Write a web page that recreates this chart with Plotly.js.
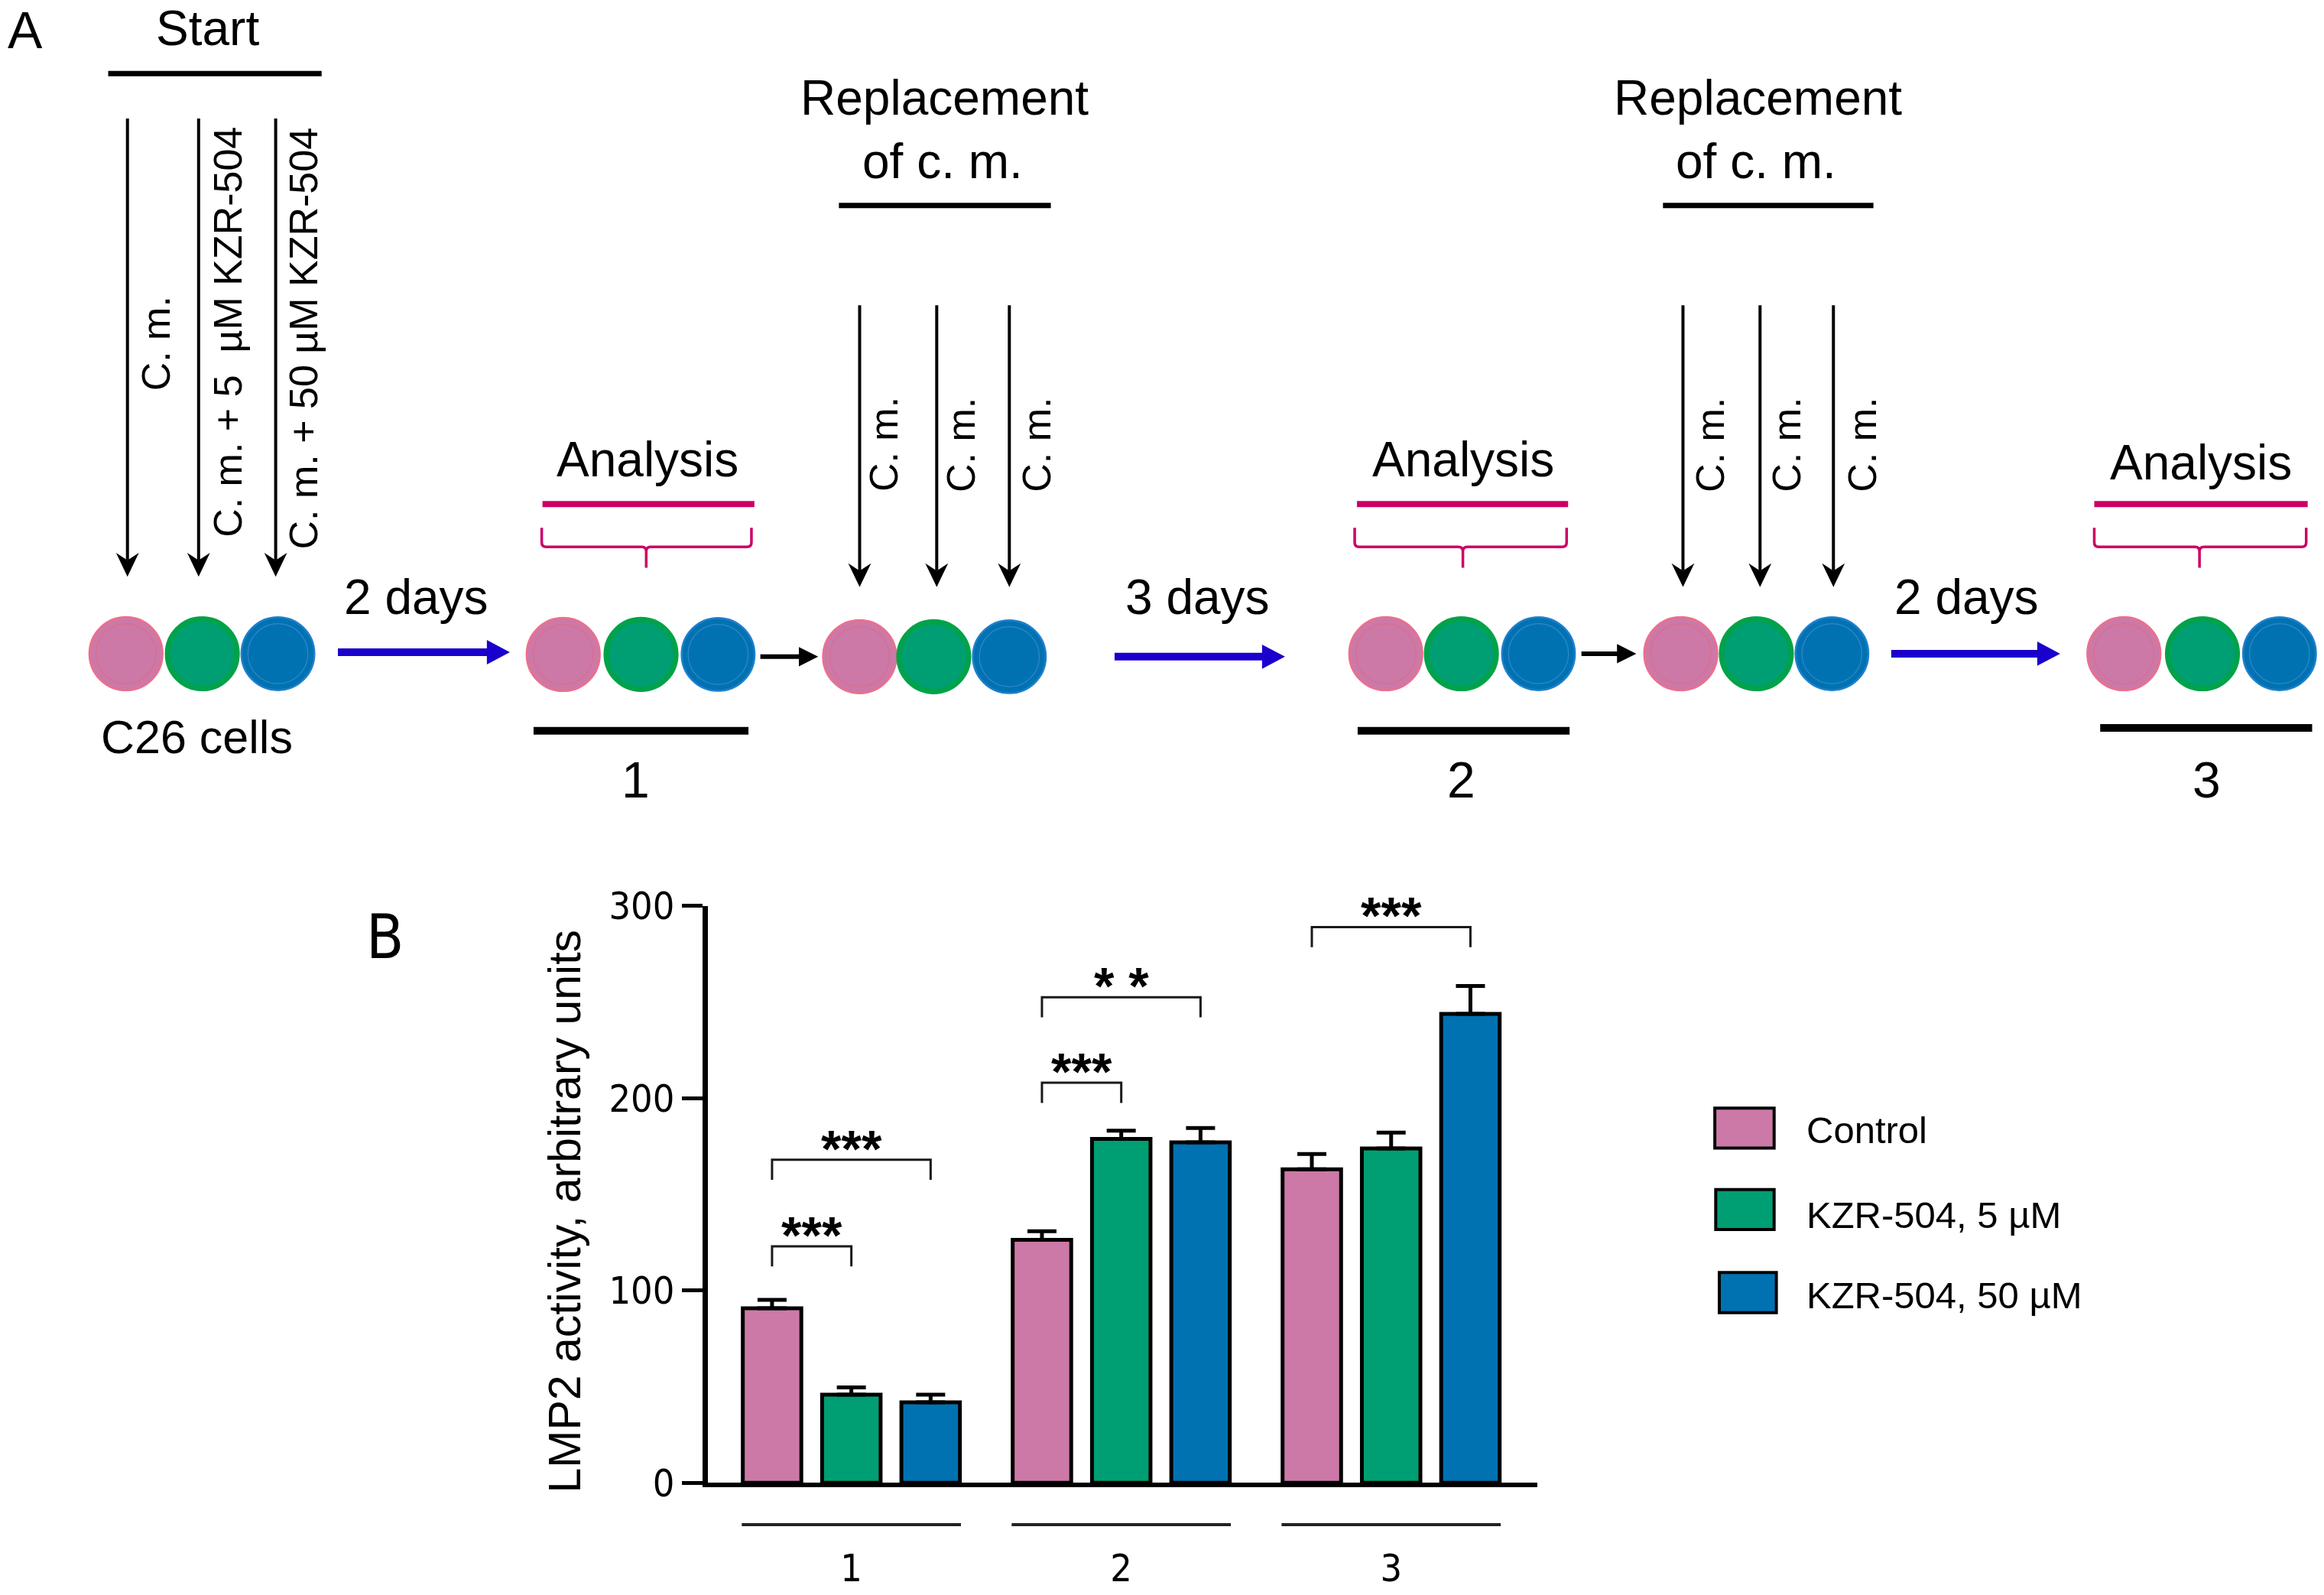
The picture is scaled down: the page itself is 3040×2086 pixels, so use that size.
<!DOCTYPE html>
<html><head><meta charset="utf-8">
<script src="https://cdn.plot.ly/plotly-3.0.1.min.js"></script>
<style>html,body{margin:0;padding:0;background:#fff;}#chart{width:3040px;height:2086px;}</style>
</head><body><div id="chart"></div>
<script>
// ---------------- data ----------------
const groups = ['1', '2', '3'];
const seriesNames = ['Control', 'KZR-504, 5 \u00B5M', 'KZR-504, 50 \u00B5M'];
const seriesColors = ['#CC79A7', '#009E73', '#0072B2'];
const control = [90.8, 126.3, 163.0];
const controlErr = [4.3, 4.5, 8.0];
const kzr5 = [45.8, 178.8, 173.8];
const kzr5Err = [3.8, 4.3, 8.3];
const kzr50 = [41.8, 177.0, 243.8];
const kzr50Err = [4.0, 7.5, 14.5];
const yTicks = [0, 100, 200, 300];
const yTitle = 'LMP2 activity, arbitrary units';
// significance brackets
const sigGroup = [0, 0, 1, 1, 2];
const sigFrom = [0, 0, 0, 0, 0];
const sigTo = [1, 2, 1, 2, 2];
const sigTop = [123, 168, 208, 252.5, 289];
const sigLabel = ['***', '***', '***', '* *', '***'];
// scheme texts
const startLabels = ['C. m.', 'C. m. + 5\u00A0 \u00B5M KZR-504', 'C. m. + 50 \u00B5M KZR-504'];
const intervalLabels = ['2 days', '3 days', '2 days'];
const analysisNumbers = ['1', '2', '3'];

// ---------------- styles ----------------
const SANS = 'Liberation Sans, Arial, Helvetica, sans-serif';
const NARROW = 'Liberation Sans Narrow, Arial Narrow, DejaVu Sans Condensed, sans-serif';
const BLACK = '#000000';
const MAGENTA = '#CC0066';
const ARROWBLUE = '#1A00CC';

const xIdx = groups.map((g, i) => i);
const values = [control, kzr5, kzr50];
const errs = [controlErr, kzr5Err, kzr50Err];

const traces = seriesNames.map((n, s) => ({
  type: 'bar', x: xIdx, y: values[s], name: n,
  marker: {color: seriesColors[s], line: {color: BLACK, width: 5}},
  error_y: {type: 'data', array: errs[s], arrayminus: errs[s].map(() => 0), symmetric: false,
            color: BLACK, thickness: 5, width: 19},
  showlegend: false, hoverinfo: 'skip', xaxis: 'x', yaxis: 'y'
}));
traces.push({type: 'scatter', x: [], y: [], xaxis: 'x2', yaxis: 'y2', showlegend: false, hoverinfo: 'skip'});

const shapes = [];
const ann = [];
const D = {xref: 'x2', yref: 'y2'};
function seg(x0, y0, x1, y1, color, w) { shapes.push(Object.assign({type: 'line', x0, y0, x1, y1, line: {color, width: w}}, D)); }
function poly(pts, color) { shapes.push(Object.assign({type: 'path', path: 'M' + pts.map(p => p.join(',')).join(' L') + ' Z', fillcolor: color, line: {width: 0}}, D)); }
function arrowRight(x0, x1, y, color, w, len, half) { seg(x0, y, x1 - len + 1, y, color, w); poly([[x1, y], [x1 - len, y - half], [x1 - len, y + half]], color); }
function arrowDown(x, y0, y1, color, w, len, half, notch) { seg(x, y0, x, y1 - len + notch, color, w); poly([[x, y1], [x - half, y1 - len], [x, y1 - len + notch], [x + half, y1 - len]], color); }
function circ(cx, cy, r, fill, lc, lw) { shapes.push(Object.assign({type: 'circle', x0: cx - r, x1: cx + r, y0: cy - r, y1: cy + r, fillcolor: fill, line: {color: lc, width: lw}}, D)); }
function txt(t, x, y, size, o) { ann.push(Object.assign({text: t, x, y, xref: 'x2', yref: 'y2', showarrow: false, xanchor: 'center', yanchor: 'middle', font: {family: SANS, size, color: BLACK}}, o || {})); }

// ---- panel A ----
txt('A', 17, 20, 68);
txt('Start', 140, 19, 64);
seg(73, 49.7, 217, 49.7, BLACK, 7);
[86, 134, 186].forEach(x => arrowDown(x, 80, 389, BLACK, 4, 16, 7.7, 5));
txt(startLabels[0], 105, 232, 52, {textangle: -90});
txt(startLabels[1], 154, 224, 52, {textangle: -90});
txt(startLabels[2], 205, 228, 52, {textangle: -90});
txt('C26 cells', 133, 497, 61);

const R = 25.3;
const cellRows = [[85, 136.5, 187.5, 441], [380, 432.5, 484.5, 441.5], [580, 630, 681, 443],
                  [935, 986, 1038, 441], [1134, 1185, 1236, 441], [1433, 1486, 1538, 441]];
cellRows.forEach(r => {
  const cy = r[3];
  circ(r[0], cy, R - 0.6, seriesColors[0], '#EE6F8A', 2.5);
  circ(r[0], cy, R * 0.8, 'rgba(0,0,0,0)', '#D96E92', 1.5);
  circ(r[1], cy, R - 1.8, seriesColors[1], '#00A24A', 7);
  circ(r[2], cy, R - 0.7, seriesColors[2], '#1E80CC', 2.5);
  circ(r[2], cy, R * 0.8, 'rgba(0,0,0,0)', '#2F88CA', 1.2);
});

// time arrows
const blueArrows = [[228, 344, 440], [752, 867, 443], [1276, 1390, 441]];
const intervalPos = [[281, 403], [808, 403], [1327, 403]];
blueArrows.forEach((a, i) => { arrowRight(a[0], a[1], a[2], ARROWBLUE, 10, 15.5, 8.2); txt(intervalLabels[i], intervalPos[i][0], intervalPos[i][1], 64); });
[[513, 552, 443], [1067, 1104, 441]].forEach(a => arrowRight(a[0], a[1], a[2], BLACK, 6, 13, 6.5));

// analysis blocks
const anaText = [[437, 310], [987, 310], [1485, 312]];
const anaLine = [[366, 509], [915.5, 1058], [1413, 1557]];
const anaBrace = [[365.5, 507, 436], [914, 1057, 987], [1413, 1556, 1484]];
const anaBar = [[360, 505, 493], [916, 1059, 493], [1417, 1560, 491]];
const anaNum = [[429, 526], [986, 526], [1489, 526]];
for (let i = 0; i < 3; i++) {
  txt('Analysis', anaText[i][0], anaText[i][1], 64);
  seg(anaLine[i][0], 340, anaLine[i][1], 340, MAGENTA, 8);
  const L = anaBrace[i][0], Rr = anaBrace[i][1], C = anaBrace[i][2];
  shapes.push(Object.assign({type: 'path', line: {color: MAGENTA, width: 3.5},
    path: `M${L},356 L${L},366 Q${L},369 ${L + 3},369 L${C - 3},369 Q${C},369 ${C},372 L${C},383 M${C},372 Q${C},369 ${C + 3},369 L${Rr - 3},369 Q${Rr},369 ${Rr},366 L${Rr},356`}, D));
  seg(anaBar[i][0], anaBar[i][2], anaBar[i][1], anaBar[i][2], BLACK, 10);
  txt(analysisNumbers[i], anaNum[i][0], anaNum[i][1], 66);
}

// replacement blocks
const replCenter = [637, 1186];
const replBar = [[566, 709], [1122, 1264]];
const replArrows = [[580, 632, 681], [1135.5, 1187.5, 1237]];
const replLabels = [[596, 648, 699], [1153.5, 1205, 1256]];
for (let i = 0; i < 2; i++) {
  txt('Replacement', replCenter[i], 66, 64);
  txt('of c. m.', replCenter[i] - 1, 109, 64);
  seg(replBar[i][0], 138.6, replBar[i][1], 138.6, BLACK, 7);
  replArrows[i].forEach(x => arrowDown(x, 206, 396, BLACK, 4, 16, 7.7, 5));
  replLabels[i].forEach(x => txt('C. m.', x, 300, 52, {textangle: -90}));
}

// ---- panel B ----
txt('B', 259.5, 632, 78, {font: {family: NARROW, size: 80, color: BLACK}});
txt(yTitle, 381, 817, 59, {textangle: -90});
const slot = 0.2938;
for (let i = 0; i < sigGroup.length; i++) {
  const xa = sigGroup[i] + (sigFrom[i] - 1) * slot, xb = sigGroup[i] + (sigTo[i] - 1) * slot;
  const t = sigTop[i];
  shapes.push({type: 'path', xref: 'x', yref: 'y', line: {color: '#1a1a1a', width: 3},
    path: `M${xa},${t - 10.5} L${xa},${t} L${xb},${t} L${xb},${t - 10.5}`});
  ann.push({text: sigLabel[i], x: (xa + xb) / 2, y: Math.min(t + 6, 299), xref: 'x', yref: 'y', showarrow: false,
    xanchor: 'center', yanchor: 'middle', font: {family: SANS, size: 68, color: BLACK, weight: 'bold'}});
}
// group underlines below the axis
xIdx.forEach(k => shapes.push({type: 'line', xref: 'x', yref: 'paper', x0: k - 0.406, x1: k + 0.406,
  y0: 1 - 1028.5 / 1076, y1: 1 - 1028.5 / 1076, line: {color: '#222', width: 4}}));

// manual legend
const legBox = [[1157, 1197, 761], [1157.6, 1197, 816], [1160, 1198.5, 872]];
const legText = [762.5, 819.7, 874];
seriesNames.forEach((n, s) => {
  shapes.push(Object.assign({type: 'rect', x0: legBox[s][0], x1: legBox[s][1], y0: legBox[s][2] - 13.5, y1: legBox[s][2] + 13.5,
    fillcolor: seriesColors[s], line: {color: BLACK, width: 4}}, D));
  txt(n, 1218, legText[s], 49, {xanchor: 'left'});
});

const layout = {
  width: 3040, height: 2086,
  margin: {l: 0, r: 0, t: 0, b: 0, pad: 0},
  paper_bgcolor: '#ffffff', plot_bgcolor: 'rgba(0,0,0,0)',
  barmode: 'group', bargap: 0.1186, bargroupgap: 0.262,
  showlegend: false, hovermode: false,
  xaxis: {domain: [0.30472, 0.66135], range: [-0.5305, 2.5404], anchor: 'y',
    tickvals: xIdx, ticktext: groups, ticks: '', showline: true, linecolor: BLACK, linewidth: 6,
    showgrid: false, zeroline: false, tickfont: {family: NARROW, size: 50, color: BLACK},
    ticklabelstandoff: 63, fixedrange: true},
  yaxis: {domain: [0.07035, 0.43206], range: [0, 300], anchor: 'x', tickvals: yTicks,
    ticks: 'outside', ticklen: 27, tickwidth: 5, tickcolor: BLACK, showline: true, linewidth: 7,
    linecolor: BLACK, showgrid: false, zeroline: false,
    tickfont: {family: NARROW, size: 50, color: BLACK}, fixedrange: true},
  xaxis2: {domain: [0, 1], range: [0, 1568], anchor: 'y2', visible: false, fixedrange: true},
  yaxis2: {domain: [0, 1], range: [1076, 0], anchor: 'x2', visible: false, fixedrange: true},
  shapes: shapes, annotations: ann
};
Plotly.newPlot('chart', traces, layout, {staticPlot: true, displayModeBar: false});
</script></body></html>
